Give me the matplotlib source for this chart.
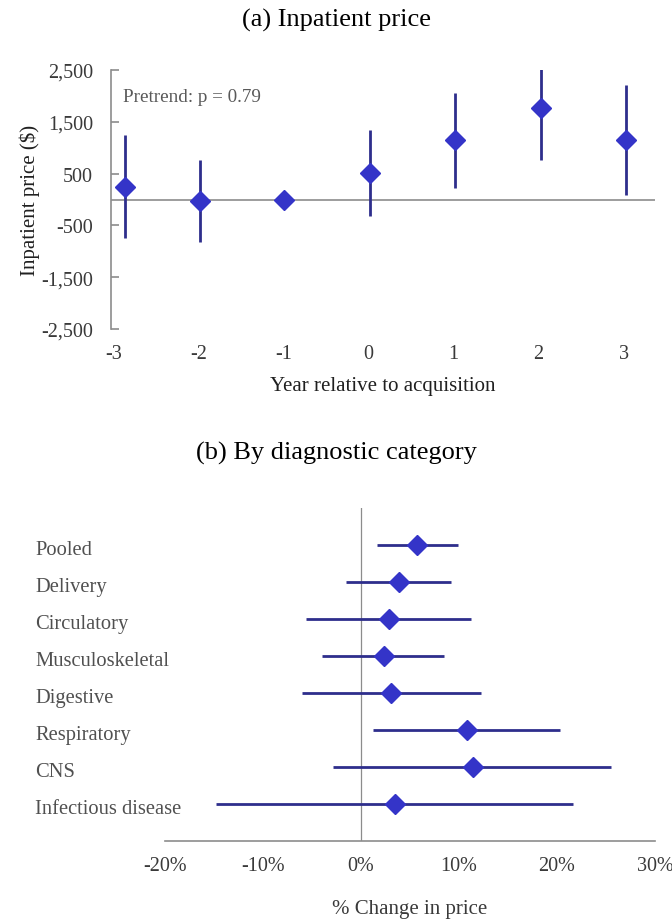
import numpy as np
import matplotlib
matplotlib.use('Agg')
import matplotlib.pyplot as plt

plt.rcParams['font.family'] = ['Liberation Serif', 'DejaVu Serif']

# (a) event-study estimates by year relative to acquisition
years = [-2.87, -1.98, -1.0, 0.02, 1.02, 2.03, 3.03]
year_ticks = [-3, -2, -1, 0, 1, 2, 3]
price_est = [250, -30, 0, 520, 1140, 1760, 1155]
price_err = [1000, 795, 0, 830, 915, 1000, 1060]
pretrend_note = 'Pretrend: p = 0.79'

# (b) percent change in price by diagnostic category
categories = ['Pooled', 'Delivery', 'Circulatory', 'Musculoskeletal',
              'Digestive', 'Respiratory', 'CNS', 'Infectious disease']
pct_est = [5.7, 3.9, 2.9, 2.3, 3.1, 10.8, 11.4, 3.5]
pct_low = [1.6, -1.5, -5.6, -4.0, -6.0, 1.2, -2.9, -14.8]
pct_high = [9.9, 9.2, 11.2, 8.5, 12.2, 20.3, 25.5, 21.6]

line_col = '#2E2E8C'
mark_col = '#3434C8'
axis_col = '#8C8C8C'
text_col = '#3A3A3A'

fig = plt.figure(figsize=(6.72, 9.2), dpi=100)

# --- panel (a) ---
ax1 = fig.add_axes([111 / 672, 1 - 330 / 920, 544 / 672, 259 / 920])
ax1.errorbar(years, price_est, yerr=price_err, fmt='none', ecolor=line_col,
             elinewidth=2, capsize=0, zorder=2)
ax1.plot(years, price_est, 'D', color=mark_col, ms=10.5, zorder=3)
ax1.axhline(0, color=axis_col, lw=1.2, zorder=1)
ax1.set_xlim(-3.03, 3.37)
ax1.set_ylim(-2500, 2500)
ax1.set_yticks([2500, 1500, 500, -500, -1500, -2500])
ax1.set_yticklabels(['2,500', '1,500', '500', '-500', '-1,500', '-2,500'])
ax1.set_xticks(year_ticks)
ax1.set_xticklabels([str(y) for y in year_ticks])
for s in ['top', 'right', 'bottom']:
    ax1.spines[s].set_visible(False)
ax1.spines['left'].set_color(axis_col)
ax1.spines['left'].set_linewidth(1.2)
ax1.tick_params(axis='y', direction='in', colors=axis_col, length=6, width=1.2,
                labelcolor=text_col, labelsize=14.5, pad=13)
ax1.tick_params(axis='x', length=0, labelcolor=text_col, labelsize=14.5, pad=11)
ax1.set_ylabel('Inpatient price ($)', fontsize=15, color='#202020', labelpad=1)
ax1.set_xlabel('Year relative to acquisition', fontsize=15, color='#202020',
               labelpad=9)
ax1.text(123 / 672, 1 - 98 / 920, pretrend_note, transform=fig.transFigure,
         fontsize=13.8, color='#595959', va='center', ha='left')
fig.text(0.5, 1 - 20 / 920, '(a) Inpatient price', ha='center', va='center',
         fontsize=19)

# --- panel (b) ---
ax2 = fig.add_axes([165 / 672, 1 - 842 / 920, 490 / 672, 333 / 920])
rows = np.arange(1, len(categories) + 1)
est = np.array(pct_est) / 100
lo = est - np.array(pct_low) / 100
hi = np.array(pct_high) / 100 - est
ax2.errorbar(est, rows, xerr=[lo, hi], fmt='none', ecolor=line_col,
             elinewidth=2, capsize=0, zorder=2)
ax2.plot(est, rows, 'D', color=mark_col, ms=10.5, zorder=3)
ax2.axvline(0, color=axis_col, lw=0.9, zorder=1)
ax2.set_xlim(-0.2, 0.3)
ax2.set_ylim(len(categories) + 1, 0)
ax2.set_xticks([-0.2, -0.1, 0, 0.1, 0.2, 0.3])
ax2.set_xticklabels(['-20%', '-10%', '0%', '10%', '20%', '30%'])
ax2.set_yticks([])
for s in ['top', 'right', 'left']:
    ax2.spines[s].set_visible(False)
ax2.spines['bottom'].set_color(axis_col)
ax2.spines['bottom'].set_linewidth(1.2)
ax2.tick_params(axis='x', length=0, labelcolor=text_col, labelsize=14.5, pad=11)
ax2.set_xlabel('% Change in price', fontsize=15, color=text_col, labelpad=17)
for r, name in zip(rows, categories):
    ax2.text((35 - 165) / 490, r + 0.12, name,
             transform=ax2.get_yaxis_transform(),
             ha='left', va='center', fontsize=14.8, color='#505050')
fig.text(0.5, 1 - 453 / 920, '(b) By diagnostic category', ha='center',
         va='center', fontsize=19)

fig.savefig('out.png', dpi=100)
